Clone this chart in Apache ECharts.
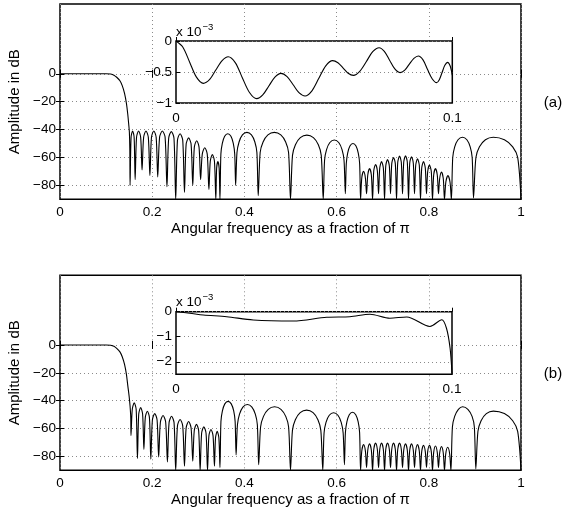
<!DOCTYPE html>
<html>
<head>
<meta charset="utf-8">
<script src="https://cdn.jsdelivr.net/npm/echarts@6/dist/echarts.min.js"></script>
<style>
html,body{margin:0;padding:0;background:#fff;}
#chart{width:584px;height:512px;}
</style>
</head>
<body>
<div id="chart"></div>
<script>
// ---------- data ----------
const xTicks = [0, 0.2, 0.4, 0.6, 0.8, 1];
const yTicks = [0, -20, -40, -60, -80];
const insetAYTicks = [0, -0.5, -1];
const insetBYTicks = [0, -1, -2];
const xName = 'Angular frequency as a fraction of \u03c0';
const yName = 'Amplitude in dB';
const panelLabels = ['(a)', '(b)'];

// (a) magnitude response, [fraction of pi, dB]
const responseA = [
[0,0],[0.10,0],[0.11,-0.2],[0.117,-1],[0.123,-2.5],[0.13,-5],[0.135,-8.5],[0.14,-14],[0.144,-21],[0.147,-29],[0.149,-36],[0.1505,-42],[0.1515,-55],
[0.152,-80],[0.1542,-45.6],[0.1575,-41],[0.1608,-45.6],
[0.163,-76],[0.166,-45.6],[0.1705,-41],[0.175,-45.6],
[0.178,-69],[0.1814,-45.6],[0.1865,-41],[0.1916,-45.6],
[0.195,-73],[0.1984,-45.6],[0.2035,-41],[0.2086,-45.6],
[0.212,-74],[0.216,-45.6],[0.222,-41],[0.228,-45.6],
[0.232,-81],[0.2358,-46.1],[0.2415,-41.5],[0.2472,-46.1],
[0.251,-90],[0.2548,-47.6],[0.2605,-43],[0.2662,-47.6],
[0.270,-85],[0.2736,-50.6],[0.279,-46],[0.2844,-50.6],
[0.288,-80],[0.2914,-52.6],[0.2965,-48],[0.3016,-52.6],
[0.305,-76],[0.3086,-57.6],[0.314,-53],[0.3194,-57.6],
[0.323,-83],[0.326,-62.6],[0.3305,-58],[0.335,-62.6],
[0.338,-90],[0.3398,-67.6],[0.3425,-63],[0.3452,-67.6],
[0.347,-90],[0.349,-57.5],[0.3521,-49.9],[0.3572,-44.8],[0.364,-43],[0.3708,-44.8],[0.3759,-49.9],[0.379,-57.5],
[0.381,-80],[0.3839,-56.5],[0.3884,-48.9],[0.3957,-43.8],[0.4055,-42],[0.4153,-43.8],[0.4227,-48.9],[0.4271,-56.5],
[0.430,-87.5],[0.4342,-56.5],[0.4405,-48.9],[0.451,-43.8],[0.465,-42],[0.479,-43.8],[0.4895,-48.9],[0.4958,-56.5],
[0.500,-90],[0.5043,-58.5],[0.5107,-50.9],[0.5213,-45.8],[0.5355,-44],[0.5497,-45.8],[0.5604,-50.9],[0.5667,-58.5],
[0.571,-90],[0.5739,-62],[0.5782,-54.4],[0.5854,-49.3],[0.595,-47.5],[0.6046,-49.3],[0.6118,-54.4],[0.6161,-62],
[0.619,-86],[0.621,-64.5],[0.624,-56.9],[0.6289,-51.8],[0.6355,-50],[0.6421,-51.8],[0.647,-56.9],[0.650,-64.5],
[0.652,-90],[0.6546,-74.6],[0.6585,-70],[0.6624,-74.6],
[0.665,-86],[0.6676,-72.6],[0.6715,-68],[0.6754,-72.6],
[0.678,-90],[0.6806,-69.6],[0.6845,-65],[0.6884,-69.6],
[0.691,-86],[0.6936,-67.6],[0.6975,-63],[0.7014,-67.6],
[0.704,-90],[0.7066,-66.1],[0.7105,-61.5],[0.7144,-66.1],
[0.717,-86],[0.7196,-64.6],[0.7235,-60],[0.7274,-64.6],
[0.730,-90],[0.7326,-63.6],[0.7365,-59],[0.7404,-63.6],
[0.743,-86],[0.7456,-63.4],[0.7495,-58.8],[0.7534,-63.4],
[0.756,-90],[0.7586,-64.1],[0.7625,-59.5],[0.7664,-64.1],
[0.769,-86],[0.7716,-65.6],[0.7755,-61],[0.7794,-65.6],
[0.782,-90],[0.7846,-67.6],[0.7885,-63],[0.7924,-67.6],
[0.795,-86],[0.7976,-70.1],[0.8015,-65.5],[0.8054,-70.1],
[0.808,-90],[0.8106,-72.6],[0.8145,-68],[0.8184,-72.6],
[0.821,-86],[0.8236,-75.1],[0.8275,-70.5],[0.8314,-75.1],
[0.834,-90],[0.837,-77.6],[0.8415,-73],[0.846,-77.6],
[0.849,-90],[0.8519,-60],[0.8562,-52.4],[0.8634,-47.3],[0.873,-45.5],[0.8826,-47.3],[0.8898,-52.4],[0.8941,-60],
[0.897,-89],[0.9022,-60],[0.9099,-52.4],[0.9228,-47.3],[0.94,-45.5],[0.964,-47.3],[0.982,-52.4],[0.9928,-60],[1.0,-90]
];

// (b) magnitude response, [fraction of pi, dB]
const responseB = [
[0,0],[0.10,0],[0.11,-0.2],[0.117,-1],[0.123,-2.5],[0.13,-5],[0.135,-8.5],[0.14,-14],[0.144,-21],[0.147,-29],[0.15,-37],[0.152,-44],[0.1535,-52],
[0.154,-65],[0.1568,-46.2],[0.161,-41.6],[0.1652,-46.2],
[0.168,-81.5],[0.1708,-49.6],[0.175,-45],[0.1792,-49.6],
[0.182,-75],[0.185,-52.2],[0.1895,-47.6],[0.194,-52.2],
[0.197,-82],[0.2004,-53.9],[0.2055,-49.3],[0.2106,-53.9],
[0.214,-80.5],[0.2178,-55.3],[0.2235,-50.7],[0.2292,-55.3],
[0.233,-84],[0.2366,-55.8],[0.242,-51.2],[0.2474,-55.8],
[0.251,-90],[0.2548,-58.1],[0.2605,-53.5],[0.2662,-58.1],
[0.270,-87],[0.2736,-59.6],[0.279,-55],[0.2844,-59.6],
[0.288,-83.5],[0.2912,-61.6],[0.296,-57],[0.3008,-61.6],
[0.304,-90],[0.3072,-63.4],[0.312,-58.8],[0.3168,-63.4],
[0.320,-90],[0.323,-65.3],[0.3275,-60.7],[0.332,-65.3],
[0.335,-87],[0.3374,-66.6],[0.341,-62],[0.3446,-66.6],
[0.347,-88],[0.3491,-55],[0.3523,-47.4],[0.3575,-42.3],[0.3645,-40.5],[0.3715,-42.3],[0.3768,-47.4],[0.3799,-55],
[0.382,-79],[0.3849,-57.3],[0.3894,-49.7],[0.3967,-44.6],[0.4065,-42.8],[0.4163,-44.6],[0.4237,-49.7],[0.4281,-57.3],
[0.431,-86],[0.4351,-58.9],[0.4414,-51.3],[0.4517,-46.2],[0.4655,-44.4],[0.4793,-46.2],[0.4897,-51.3],[0.4959,-58.9],
[0.500,-90],[0.5042,-61.3],[0.5105,-53.7],[0.521,-48.6],[0.535,-46.8],[0.549,-48.6],[0.5595,-53.7],[0.5658,-61.3],
[0.570,-90],[0.5728,-63.2],[0.577,-55.6],[0.5841,-50.5],[0.5935,-48.7],[0.6029,-50.5],[0.61,-55.6],[0.6142,-63.2],
[0.617,-86],[0.6191,-62.8],[0.6223,-55.2],[0.6275,-50.1],[0.6345,-48.3],[0.6415,-50.1],[0.6468,-55.2],[0.6499,-62.8],
[0.652,-90],[0.6546,-76.1],[0.6585,-71.5],[0.6624,-76.1],
[0.665,-88],[0.6676,-75.6],[0.6715,-71],[0.6754,-75.6],
[0.678,-90],[0.6806,-75.1],[0.6845,-70.5],[0.6884,-75.1],
[0.691,-88],[0.6936,-75.1],[0.6975,-70.5],[0.7014,-75.1],
[0.704,-90],[0.7066,-75.1],[0.7105,-70.5],[0.7144,-75.1],
[0.717,-88],[0.7196,-75.1],[0.7235,-70.5],[0.7274,-75.1],
[0.730,-90],[0.7326,-75.1],[0.7365,-70.5],[0.7404,-75.1],
[0.743,-88],[0.7456,-75.6],[0.7495,-71],[0.7534,-75.6],
[0.756,-90],[0.7586,-75.6],[0.7625,-71],[0.7664,-75.6],
[0.769,-88],[0.7716,-76.1],[0.7755,-71.5],[0.7794,-76.1],
[0.782,-90],[0.7846,-76.6],[0.7885,-72],[0.7924,-76.6],
[0.795,-88],[0.7976,-76.6],[0.8015,-72],[0.8054,-76.6],
[0.808,-90],[0.8106,-77.1],[0.8145,-72.5],[0.8184,-77.1],
[0.821,-88],[0.8236,-77.6],[0.8275,-73],[0.8314,-77.6],
[0.834,-90],[0.8368,-78.1],[0.841,-73.5],[0.8452,-78.1],
[0.848,-90],[0.8512,-58.9],[0.8561,-51.3],[0.8642,-46.2],[0.8735,-44.4],[0.8848,-46.2],[0.8939,-51.3],[0.8988,-58.9],
[0.902,-89],[0.9066,-62],[0.9134,-54.4],[0.9248,-49.3],[0.94,-47.5],[0.964,-49.3],[0.982,-54.4],[0.9928,-62],[1.0,-90]
];

// insets: passband detail, [fraction of pi, dB x 1e-3]
const insetA = [
[0,0],[0.0025,-0.1],[0.00495,-0.342],[0.0074,-0.583],[0.0099,-0.683],
[0.0122,-0.62],[0.0144,-0.468],[0.0167,-0.316],[0.0189,-0.253],
[0.0215,-0.352],[0.024,-0.592],[0.0266,-0.831],[0.0292,-0.93],
[0.0314,-0.87],[0.0336,-0.726],[0.0358,-0.582],[0.038,-0.522],
[0.0402,-0.575],[0.0424,-0.705],[0.0445,-0.834],[0.0467,-0.887],
[0.0492,-0.804],[0.0517,-0.602],[0.0542,-0.4],[0.0567,-0.317],
[0.0586,-0.352],[0.0605,-0.436],[0.0623,-0.519],[0.0642,-0.554],
[0.0665,-0.489],[0.0689,-0.331],[0.0712,-0.173],[0.0735,-0.108],
[0.0754,-0.167],[0.0773,-0.309],[0.0792,-0.451],[0.0811,-0.51],
[0.0828,-0.471],[0.0844,-0.376],[0.0861,-0.281],[0.0877,-0.242],
[0.0894,-0.305],[0.091,-0.457],[0.0927,-0.609],[0.0943,-0.672],
[0.0953,-0.624],[0.0963,-0.508],[0.0973,-0.392],[0.0983,-0.344],
[0.0992,-0.40],[0.1,-0.55]
];
const insetB = [
[0,0],[0.005,-0.06],[0.0099,-0.13],[0.0184,-0.2],[0.028,-0.33],[0.0425,-0.37],[0.0546,-0.22],[0.063,-0.2],[0.0703,-0.1],
[0.0775,-0.26],[0.0836,-0.21],[0.092,-0.59],[0.0963,-0.32],[0.098,-0.66],[0.0993,-1.45],[0.1,-2.46]
];

// ---------- chart ----------
const FONT = 'Liberation Sans, Arial, Helvetica, sans-serif';
const minus = v => (v < 0 ? '\u2212' + String(+Math.abs(v).toFixed(4)) : String(+(+v).toFixed(4)));
const dotted = { show: true, lineStyle: { color: '#8a8a8a', width: 1, type: [1, 3] } };
const tick = { show: true, inside: true, length: 4, lineStyle: { color: '#000', width: 1 } };
const lab = { color: '#000', fontFamily: FONT, fontSize: 13.5 };
const titleStyle = { color: '#000', fontFamily: FONT, fontSize: 15 };

const mainGrids = [
  { left: 60, top: 4, width: 461, height: 195.3 },
  { left: 60, top: 275.3, width: 461, height: 195 }
];
const insetGrids = [
  { left: 176, top: 41, width: 276.3, height: 62 },
  { left: 176, top: 311.7, width: 276, height: 62.6 }
];

const grid = [];
mainGrids.forEach(g => grid.push(Object.assign({ show: true, borderColor: '#000', borderWidth: 1.5, backgroundColor: 'transparent', z: 0, outerBoundsMode: 'none' }, g)));
insetGrids.forEach(g => grid.push(Object.assign({ show: true, borderColor: '#000', borderWidth: 1.5, backgroundColor: '#fff', z: 10, outerBoundsMode: 'none' }, g)));

const xAxis = [], yAxis = [], series = [];
[0, 1].forEach(i => {
  xAxis.push({
    type: 'value', gridIndex: i, min: 0, max: 1, interval: 0.2, position: 'bottom',
    axisLine: { show: false }, axisTick: tick, splitLine: dotted,
    axisLabel: Object.assign({ margin: 6, formatter: v => String(+v.toFixed(2)) }, lab),
    name: xName, nameLocation: 'middle', nameGap: 22,
    nameTextStyle: titleStyle
  });
  xAxis.push({
    type: 'value', gridIndex: i, min: 0, max: 1, interval: 0.2, position: 'top',
    axisLine: { show: false }, axisTick: tick, splitLine: { show: false }, axisLabel: { show: false }
  });
  yAxis.push({
    type: 'value', gridIndex: i, min: -90, max: 50, position: 'left',
    axisLine: { show: false },
    axisTick: Object.assign({ customValues: yTicks }, tick),
    splitLine: dotted,
    axisLabel: Object.assign({ margin: 4, customValues: yTicks, formatter: minus }, lab),
    name: yName, nameLocation: 'middle', nameGap: 30,
    nameTextStyle: titleStyle
  });
  yAxis.push({
    type: 'value', gridIndex: i, min: -90, max: 50, position: 'right',
    axisLine: { show: false },
    axisTick: Object.assign({ customValues: yTicks }, tick),
    splitLine: { show: false }, axisLabel: { show: false }
  });
});
const insetYTicks = [insetAYTicks, insetBYTicks];
const insetMin = [-1, -2.5];
[0, 1].forEach(k => {
  const gi = 2 + k;
  xAxis.push({
    type: 'value', gridIndex: gi, min: 0, max: 0.1, interval: 0.1, z: 11,
    axisLine: { show: false }, axisTick: tick, splitLine: { show: false },
    axisLabel: Object.assign({ margin: 8, formatter: v => String(+v.toFixed(2)) }, lab)
  });
  yAxis.push({
    type: 'value', gridIndex: gi, min: insetMin[k], max: 0, z: 11,
    axisLine: { show: false },
    axisTick: Object.assign({ customValues: insetYTicks[k] }, tick),
    splitLine: dotted,
    axisLabel: Object.assign({ margin: 4, customValues: insetYTicks[k], formatter: minus }, lab),
    name: 'x 10{s|\u22123}', nameLocation: 'end', nameGap: -1,
    nameTextStyle: {
      color: '#000', fontFamily: FONT, fontSize: 13.5, align: 'left',
      rich: { s: { fontSize: 9.5, fontFamily: FONT, color: '#000', padding: [0, 0, 10, 1] } }
    }
  });
});

const responses = [responseA, responseB];
[0, 1].forEach(i => {
  series.push({
    type: 'line', xAxisIndex: 2 * i, yAxisIndex: 2 * i, data: responses[i],
    showSymbol: false, symbol: 'none', smooth: 0.3, clip: true, z: 2,
    lineStyle: { color: '#000', width: 1.1 }
  });
});
const insets = [insetA, insetB];
[0, 1].forEach(k => {
  series.push({
    type: 'line', xAxisIndex: 4 + k, yAxisIndex: 4 + k, data: insets[k],
    showSymbol: false, symbol: 'none', smooth: 0.3, clip: true, z: 12,
    lineStyle: { color: '#000', width: 1.1 }
  });
});

const chart = echarts.init(document.getElementById('chart'), null, { renderer: 'canvas' });
chart.setOption({
  animation: false,
  backgroundColor: '#fff',
  grid, xAxis, yAxis, series,
  graphic: [
    { type: 'text', x: 553, y: 103, style: { text: panelLabels[0], fill: '#000', font: '15px ' + FONT, align: 'center', verticalAlign: 'middle' } },
    { type: 'text', x: 553, y: 374, style: { text: panelLabels[1], fill: '#000', font: '15px ' + FONT, align: 'center', verticalAlign: 'middle' } }
  ]
});
</script>
</body>
</html>
